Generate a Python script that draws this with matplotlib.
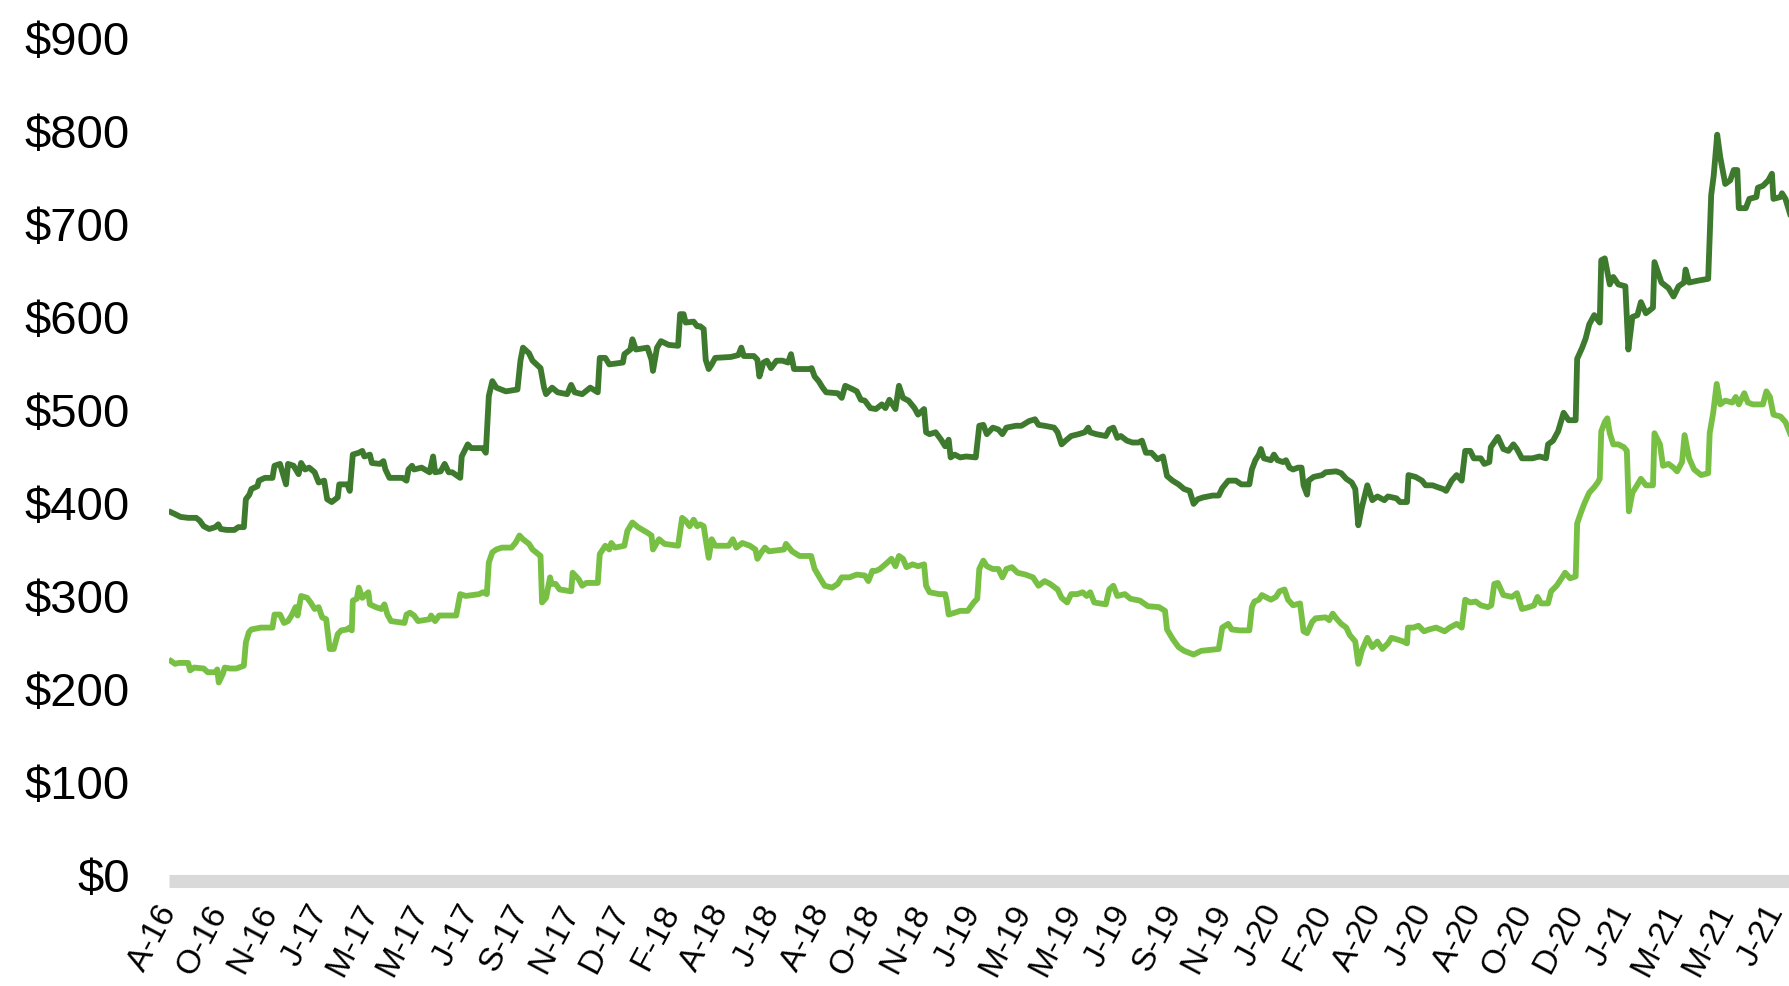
import numpy as np
import matplotlib.pyplot as plt
from matplotlib.transforms import ScaledTranslation

plt.rcParams['font.family'] = ['Liberation Sans', 'DejaVu Sans']

# x is in label-interval units (one step per x tick label)
tick_labels = ['A-16', 'O-16', 'N-16', 'J-17', 'M-17', 'M-17', 'J-17', 'S-17', 'N-17',
               'D-17', 'F-18', 'A-18', 'J-18', 'A-18', 'O-18', 'N-18', 'J-19', 'M-19',
               'M-19', 'J-19', 'S-19', 'N-19', 'J-20', 'F-20', 'A-20', 'J-20', 'A-20',
               'O-20', 'D-20', 'J-21', 'M-21', 'M-21', 'J-21']
y_ticks = [0, 100, 200, 300, 400, 500, 600, 700, 800, 900]

dark_pts = [
    (0.04, 390), (0.12, 388), (0.23, 385), (0.38, 384), (0.54, 384), (0.61, 381), (0.69, 375),
    (0.80, 372), (0.92, 374), (0.98, 377), (1.03, 372), (1.15, 371), (1.30, 371), (1.38, 374),
    (1.49, 374), (1.53, 404), (1.60, 409), (1.64, 415), (1.76, 418), (1.79, 424), (1.91, 427),
    (2.06, 427), (2.10, 440), (2.21, 442), (2.33, 420), (2.37, 442), (2.48, 440), (2.58, 431),
    (2.63, 443), (2.71, 436), (2.79, 438), (2.90, 433), (2.98, 422), (3.09, 424), (3.15, 404),
    (3.24, 401), (3.36, 406), (3.39, 420), (3.55, 420), (3.60, 413), (3.66, 452), (3.78, 454),
    (3.85, 456), (3.89, 450), (4.00, 452), (4.04, 443), (4.20, 442), (4.27, 445), (4.31, 436),
    (4.39, 427), (4.65, 427), (4.73, 424), (4.77, 436), (4.84, 440), (4.88, 436), (5.03, 438),
    (5.19, 433), (5.26, 450), (5.30, 433), (5.41, 434), (5.49, 442), (5.57, 433), (5.64, 433),
    (5.80, 427), (5.83, 450), (5.95, 463), (6.02, 459), (6.25, 459), (6.31, 454), (6.37, 515),
    (6.44, 531), (6.52, 524), (6.71, 520), (6.94, 522), (7.00, 553), (7.05, 567), (7.17, 561),
    (7.24, 553), (7.40, 545), (7.47, 524), (7.51, 517), (7.63, 524), (7.74, 519), (7.93, 517),
    (8.01, 527), (8.08, 519), (8.23, 517), (8.39, 524), (8.54, 519), (8.58, 556), (8.69, 556),
    (8.77, 549), (9.04, 551), (9.07, 560), (9.19, 565), (9.23, 576), (9.30, 565), (9.53, 567),
    (9.61, 554), (9.64, 542), (9.72, 567), (9.80, 574), (9.95, 570), (10.14, 569), (10.18, 603),
    (10.25, 603), (10.29, 594), (10.45, 595), (10.52, 590),
    (10.58, 590), (10.65, 587), (10.69, 554), (10.75, 544), (10.81, 549), (10.88, 556),
    (11.19, 557), (11.34, 559), (11.40, 567), (11.45, 558), (11.65, 558), (11.72, 554),
    (11.76, 536), (11.84, 551), (11.91, 553), (11.99, 545), (12.10, 553), (12.22, 553),
    (12.33, 551), (12.39, 560), (12.45, 544), (12.75, 544), (12.80, 545), (12.86, 536),
    (12.94, 531), (13.02, 524), (13.09, 519), (13.32, 518), (13.40, 513), (13.47, 526),
    (13.63, 522), (13.70, 520), (13.78, 511), (13.86, 510), (13.97, 502), (14.08, 501),
    (14.20, 506), (14.27, 502), (14.35, 511), (14.47, 501), (14.54, 526), (14.62, 513),
    (14.73, 510), (14.85, 502), (14.92, 495), (15.04, 501), (15.08, 476), (15.15, 474),
    (15.27, 476), (15.38, 468), (15.46, 461), (15.53, 468), (15.57, 449), (15.65, 452),
    (15.76, 449), (15.88, 450), (16.07, 449), (16.14, 483), (16.22, 484), (16.29, 474),
    (16.41, 481), (16.52, 479), (16.60, 474), (16.68, 481), (16.87, 483), (16.98, 483),
    (17.13, 488), (17.25, 490), (17.32, 484), (17.44, 483), (17.63, 481), (17.70, 476),
    (17.78, 463), (17.86, 467), (17.97, 472), (18.12, 474), (18.24, 476), (18.31, 481),
    (18.35, 476), (18.47, 474), (18.66, 472), (18.73, 479), (18.81, 481), (18.89, 470),
    (18.96, 472), (19.08, 467), (19.19, 465), (19.31, 465), (19.38, 467), (19.46, 454),
    (19.57, 454), (19.69, 447), (19.80, 450), (19.88, 429), (19.99, 424), (20.11, 420),
    (20.22, 415), (20.33, 413), (20.41, 399), (20.49, 404), (20.60, 406), (20.79, 408),
    (20.91, 408), (20.98, 416), (21.10, 424), (21.25, 424), (21.36, 420), (21.52, 420),
    (21.57, 436), (21.64, 446), (21.71, 452), (21.75, 458), (21.81, 448), (21.95, 446),
    (22.01, 452), (22.08, 446), (22.19, 444), (22.25, 446), (22.32, 438), (22.39, 436),
    (22.49, 438), (22.56, 438), (22.60, 419), (22.67, 409), (22.70, 424), (22.80, 428),
    (22.97, 430), (23.04, 433), (23.25, 434), (23.35, 432), (23.45, 426), (23.56, 422),
    (23.63, 415), (23.69, 376), (23.76, 395), (23.87, 419), (23.97, 403), (24.07, 407),
    (24.21, 403), (24.28, 407), (24.45, 405), (24.52, 401), (24.66, 401), (24.69, 430),
    (24.83, 428), (24.96, 424), (25.03, 419), (25.17, 419), (25.27, 417), (25.38, 415),
    (25.44, 413), (25.55, 424), (25.65, 430), (25.75, 424), (25.82, 456), (25.92, 456),
    (25.99, 448), (26.13, 448), (26.20, 442), (26.30, 444), (26.33, 460), (26.47, 471),
    (26.58, 458), (26.68, 456), (26.78, 463), (26.85, 458), (26.95, 448), (27.16, 448),
    (27.30, 450), (27.43, 448), (27.47, 463), (27.57, 467), (27.67, 477), (27.78, 497),
    (27.88, 489), (28.02, 489), (28.05, 555), (28.15, 567), (28.22, 577), (28.29, 592),
    (28.39, 602), (28.50, 594), (28.53, 661), (28.60, 663), (28.70, 635), (28.77, 643),
    (28.87, 635), (29.01, 633), (29.07, 565), (29.15, 600), (29.25, 602), (29.32, 616),
    (29.42, 604), (29.56, 610), (29.59, 659), (29.73, 637), (29.87, 631), (29.97, 622),
    (30.07, 633), (30.18, 637), (30.21, 651), (30.28, 637), (30.45, 639), (30.66, 641),
    (30.72, 731), (30.77, 752), (30.84, 796), (30.90, 772), (31.00, 743), (31.10, 747),
    (31.17, 758), (31.24, 758), (31.27, 717), (31.41, 717), (31.48, 727), (31.62, 729),
    (31.65, 739), (31.75, 741), (31.86, 747), (31.93, 754), (31.96, 727), (32.10, 729),
    (32.13, 733), (32.20, 727), (32.29, 711),
]

light_pts = [
    (0.04, 230), (0.12, 227), (0.19, 228), (0.38, 228), (0.42, 220), (0.50, 223), (0.69, 222),
    (0.77, 218), (0.92, 218), (0.96, 221), (0.99, 207), (1.07, 216), (1.11, 223), (1.22, 222),
    (1.34, 222), (1.49, 225), (1.53, 250), (1.59, 261), (1.64, 264), (1.83, 266), (2.06, 266),
    (2.10, 280), (2.21, 280), (2.29, 271), (2.37, 273), (2.44, 279), (2.52, 288), (2.56, 279),
    (2.63, 300), (2.75, 298), (2.82, 293), (2.90, 286), (2.98, 288), (3.05, 277), (3.13, 275),
    (3.17, 257), (3.20, 243), (3.28, 243), (3.36, 259), (3.43, 263), (3.55, 264), (3.59, 266),
    (3.64, 263), (3.66, 295), (3.74, 297), (3.78, 309), (3.85, 298), (3.97, 304), (4.00, 291),
    (4.12, 288), (4.23, 286), (4.29, 291), (4.35, 280), (4.42, 273), (4.69, 271), (4.73, 280),
    (4.80, 282), (4.88, 279), (4.96, 273), (5.19, 275), (5.22, 279), (5.30, 273), (5.38, 279),
    (5.72, 279), (5.80, 302), (5.91, 300), (6.18, 302), (6.25, 304), (6.33, 302), (6.37, 336),
    (6.44, 347), (6.52, 350), (6.63, 352), (6.82, 352), (6.90, 357), (6.98, 365), (7.05, 361),
    (7.17, 356), (7.24, 350), (7.40, 343), (7.43, 293), (7.51, 298), (7.59, 320), (7.62, 313),
    (7.70, 313), (7.78, 307), (8.01, 305), (8.04, 325), (8.16, 318), (8.23, 311), (8.31, 314),
    (8.54, 314), (8.58, 345), (8.69, 354), (8.77, 350), (8.81, 357), (8.88, 352), (9.07, 354),
    (9.13, 370), (9.23, 379), (9.34, 374), (9.53, 368), (9.61, 365), (9.64, 350), (9.76, 361),
    (9.87, 356), (10.14, 354), (10.22, 384), (10.29, 381), (10.37, 375), (10.45, 382),
    (10.52, 375),
    (10.58, 377), (10.65, 375), (10.69, 361), (10.75, 341), (10.81, 361), (10.88, 354),
    (11.15, 354), (11.23, 361), (11.30, 352), (11.42, 357), (11.57, 354), (11.68, 350),
    (11.72, 340), (11.80, 347), (11.87, 352), (11.95, 348), (12.25, 350), (12.29, 356),
    (12.41, 348), (12.56, 343), (12.79, 343), (12.86, 329), (12.98, 318), (13.06, 311),
    (13.21, 309), (13.32, 313), (13.40, 320), (13.55, 320), (13.70, 323), (13.86, 322),
    (13.93, 316), (14.01, 327), (14.08, 327), (14.16, 329), (14.31, 336), (14.39, 340),
    (14.47, 332), (14.54, 343), (14.62, 340), (14.69, 331), (14.81, 334), (14.92, 332),
    (15.04, 334), (15.08, 311), (15.15, 304), (15.34, 302), (15.46, 302), (15.49, 295),
    (15.53, 280), (15.65, 282), (15.76, 284), (15.91, 284), (16.03, 293), (16.10, 297),
    (16.14, 329), (16.22, 338), (16.29, 332), (16.41, 329), (16.52, 329), (16.60, 320),
    (16.68, 329), (16.79, 331), (16.90, 325), (17.06, 323), (17.21, 320), (17.32, 311),
    (17.44, 316), (17.55, 313), (17.70, 307), (17.78, 298), (17.89, 293), (17.97, 302),
    (18.09, 302), (18.20, 304), (18.28, 300), (18.35, 304), (18.43, 293), (18.66, 291),
    (18.73, 307), (18.81, 311), (18.89, 300), (19.04, 302), (19.15, 297), (19.34, 295),
    (19.50, 289), (19.72, 288), (19.84, 284), (19.88, 264), (19.99, 254), (20.11, 245),
    (20.22, 241), (20.41, 237), (20.56, 241), (20.91, 243), (20.98, 266), (21.10, 270),
    (21.17, 264), (21.33, 263), (21.52, 263),
    (21.57, 288), (21.62, 294), (21.71, 296), (21.77, 301), (21.84, 299), (21.95, 296),
    (22.05, 299), (22.12, 305), (22.22, 307), (22.29, 296), (22.39, 290), (22.53, 292),
    (22.60, 262), (22.67, 260), (22.77, 272), (22.84, 276), (23.04, 277), (23.11, 274),
    (23.18, 281), (23.25, 276), (23.35, 270), (23.45, 266), (23.52, 258), (23.63, 251),
    (23.69, 227), (23.76, 241), (23.87, 255), (23.97, 245), (24.07, 251), (24.17, 243),
    (24.28, 249), (24.35, 255), (24.48, 253), (24.59, 251), (24.66, 249), (24.68, 266),
    (24.79, 266), (24.89, 268), (25.00, 262), (25.10, 264), (25.24, 266), (25.41, 262),
    (25.51, 266), (25.65, 270), (25.75, 266), (25.82, 296), (25.92, 293), (26.03, 294),
    (26.13, 290), (26.27, 288), (26.34, 290), (26.40, 313), (26.47, 314), (26.58, 301),
    (26.75, 299), (26.85, 303), (26.95, 286), (27.09, 288), (27.19, 290), (27.26, 299),
    (27.33, 292), (27.47, 292), (27.53, 305), (27.64, 311), (27.74, 319), (27.81, 325),
    (27.91, 319), (28.02, 321), (28.05, 378), (28.12, 389), (28.19, 399), (28.29, 411),
    (28.39, 417), (28.46, 422), (28.50, 426), (28.53, 477), (28.60, 487), (28.65, 491),
    (28.70, 475), (28.77, 463), (28.87, 463), (28.98, 460), (29.04, 456), (29.08, 391),
    (29.15, 411), (29.22, 417), (29.32, 426), (29.42, 419), (29.56, 419), (29.59, 475),
    (29.70, 463), (29.76, 440), (29.87, 442), (29.97, 438), (30.04, 434), (30.14, 444),
    (30.19, 473), (30.28, 448), (30.38, 436), (30.52, 430), (30.66, 432), (30.69, 475),
    (30.76, 497), (30.83, 528), (30.90, 506), (31.00, 510), (31.14, 508), (31.21, 514),
    (31.27, 506), (31.38, 518), (31.45, 508), (31.55, 506), (31.75, 506), (31.82, 520),
    (31.89, 514), (31.96, 495), (32.10, 493), (32.20, 487), (32.29, 475),
]

dark = np.array(dark_pts)
light = np.array(light_pts)

fig = plt.figure(figsize=(17.89, 9.86), dpi=100)
ax = fig.add_axes([0.0945, 0.1126, 0.9055, 0.8489])

ax.plot(dark[:, 0], dark[:, 1], color='#3e7a2e', lw=4.2, solid_joinstyle='round')
ax.plot(light[:, 0], light[:, 1], color='#78c044', lw=4.2, solid_joinstyle='round')

ax.set_xlim(0, 32.27)
ax.set_ylim(0, 900)

for s in ['top', 'right', 'left']:
    ax.spines[s].set_visible(False)
ax.spines['bottom'].set_color('#d9d9d9')
ax.spines['bottom'].set_linewidth(9.4)
ax.spines['bottom'].set_position(('outward', 4))
ax.spines['bottom'].set_capstyle('butt')

ax.set_yticks(y_ticks)
ax.set_yticklabels(['$' + str(v) for v in y_ticks], fontsize=34)
ax.tick_params(axis='y', length=0, pad=28)

ax.set_xticks(range(len(tick_labels)))
ax.set_xticklabels(tick_labels, fontsize=24, rotation=62, ha='right', va='top',
                   rotation_mode='anchor')
ax.tick_params(axis='x', length=0, pad=14)
shift = ScaledTranslation(-0.13, 0, fig.dpi_scale_trans)
for lab in ax.get_xticklabels():
    lab.set_transform(lab.get_transform() + shift)

plt.savefig('out.png', dpi=100)
